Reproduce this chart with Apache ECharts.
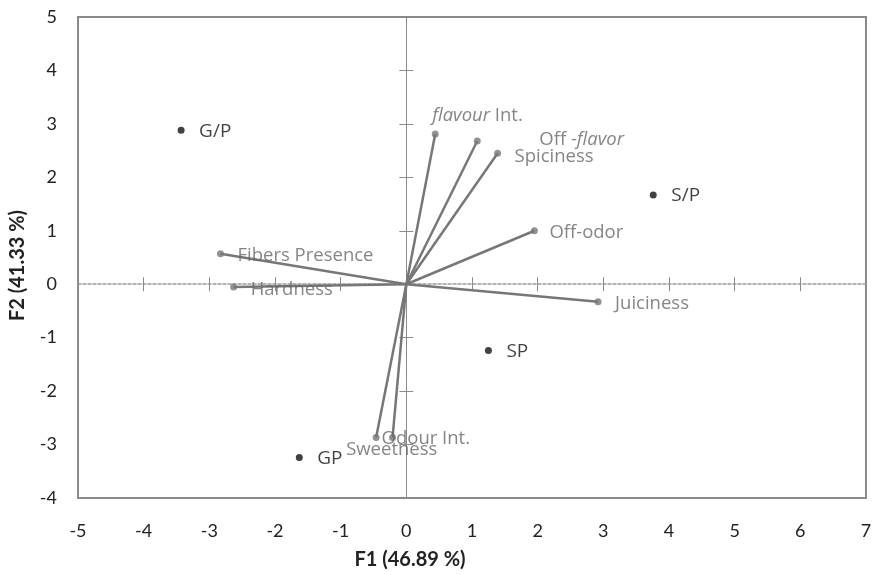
<!DOCTYPE html>
<html><head><meta charset="utf-8">
<script src="https://cdn.jsdelivr.net/npm/echarts@6/dist/echarts.min.js"></script>
<style>html,body{margin:0;padding:0;background:#fff}#c{width:876px;height:575px}</style>
</head><body><div id="c"></div>
<script>
// Observations (F1, F2)
const obsNames = ['G/P', 'S/P', 'SP', 'GP'];
const obsF1 = [-3.43, 3.76, 1.25, -1.63];
const obsF2 = [2.88, 1.67, -1.24, -3.24];
// Variable vectors (F1, F2)
const varNames = ['flavour Int.', 'Off -flavor', 'Spiciness', 'Off-odor', 'Fibers Presence', 'Hardness', 'Juiciness', 'Sweetness', 'Odour Int.'];
const varF1 = [0.44, 1.08, 1.39, 1.95, -2.83, -2.63, 2.92, -0.46, -0.21];
const varF2 = [2.81, 2.68, 2.45, 1.00, 0.57, -0.05, -0.33, -2.87, -2.87];
const xTicks = { min: -5, max: 7, step: 1 };
const yTicks = { min: -4, max: 5, step: 1 };
const xTitle = 'F1 (46.89 %)';
const yTitle = 'F2 (41.33 %)';

// label styling (offsets in px)
const varLabelStyle = {
  'flavour Int.': { fmt: '{i|flavour} Int.', off: [-3, -18] },
  'Off -flavor': { fmt: 'Off -{i|flavor}', off: [62, -1] },
  'Spiciness': { fmt: 'Spiciness', off: [17, 3] },
  'Off-odor': { fmt: 'Off-odor', off: [15, 2] },
  'Fibers Presence': { fmt: 'Fibers Presence', off: [17, 2] },
  'Hardness': { fmt: 'Hardness', off: [17, 3] },
  'Juiciness': { fmt: 'Juiciness', off: [17, 2] },
  'Sweetness': { fmt: 'Sweetness', off: [-30, 12] },
  'Odour Int.': { fmt: 'Odour Int.', off: [-11, 1] }
};

const GREY = '#8a8a8a';
const LBL = '#666666';
const FONT = '"Open Sans", "DejaVu Sans", sans-serif';
const TICKFONT = 'Lato, "Open Sans", sans-serif';

const varData = varNames.map((n, i) => ({ name: n, value: [varF1[i], varF2[i]] }));
const obsData = obsNames.map((n, i) => ({ name: n, value: [obsF1[i], obsF2[i]] }));

function zeroAxis(pos, extra) {
  return Object.assign({
    type: 'value', position: pos, gridIndex: 0,
    axisLine: { show: true, onZero: true, onZeroAxisIndex: 0 },
    axisTick: { show: true, length: 7, lineStyle: { color: GREY, width: 1 } },
    axisLabel: { show: false }, splitLine: { show: false }
  }, extra);
}

const option = {
  animation: false,
  grid: { left: 78, right: 10, top: 17, bottom: 77, show: true, borderColor: GREY, borderWidth: 2, containLabel: false },
  xAxis: [
    {
      type: 'value', min: xTicks.min, max: xTicks.max, interval: xTicks.step, position: 'bottom',
      axisLine: { show: false, onZero: false }, axisTick: { show: false }, splitLine: { show: false },
      axisLabel: { fontSize: 18, color: '#222', margin: 24, fontFamily: TICKFONT },
      name: xTitle, nameLocation: 'middle', nameGap: 52,
      nameTextStyle: { fontSize: 20, fontWeight: 'bold', color: '#222', fontFamily: TICKFONT, padding: [0, 124, 0, 0] }
    },
    zeroAxis('bottom', { min: xTicks.min, max: xTicks.max, interval: xTicks.step,
      axisLine: { show: true, onZero: true, onZeroAxisIndex: 0, lineStyle: { color: '#9a9a9a', width: 1.5, type: [3, 2] } } }),
    zeroAxis('top', { min: xTicks.min, max: xTicks.max, interval: xTicks.step,
      axisLine: { show: false, onZero: true, onZeroAxisIndex: 0 } })
  ],
  yAxis: [
    {
      type: 'value', min: yTicks.min, max: yTicks.max, interval: yTicks.step, position: 'left',
      axisLine: { show: false, onZero: false }, axisTick: { show: false }, splitLine: { show: false },
      axisLabel: { fontSize: 18, color: '#222', margin: 21, fontFamily: TICKFONT },
      name: yTitle, nameLocation: 'middle', nameGap: 50, nameRotate: 90,
      nameTextStyle: { fontSize: 20, fontWeight: 'bold', color: '#222', fontFamily: TICKFONT, padding: [0, 16, 0, 0] }
    },
    zeroAxis('left', { min: yTicks.min, max: yTicks.max, interval: yTicks.step,
      axisLine: { show: true, onZero: true, onZeroAxisIndex: 0, lineStyle: { color: GREY, width: 1 } } }),
    zeroAxis('right', { min: yTicks.min, max: yTicks.max, interval: yTicks.step,
      axisLine: { show: false, onZero: true, onZeroAxisIndex: 0 } })
  ],
  series: [
    {
      type: 'custom', xAxisIndex: 0, yAxisIndex: 0, silent: true,
      data: varData,
      renderItem: function (params, api) {
        const o = api.coord([0, 0]);
        const p = api.coord([api.value(0), api.value(1)]);
        return { type: 'line', shape: { x1: o[0], y1: o[1], x2: p[0], y2: p[1] },
          style: { stroke: '#777777', lineWidth: 2.5 } };
      },
      z: 3
    },
    {
      type: 'scatter', xAxisIndex: 0, yAxisIndex: 0, symbolSize: 7, silent: true,
      itemStyle: { color: '#777777' },
      data: varData.map(d => Object.assign({}, d, {
        label: { show: true, position: 'inside', align: 'left', verticalAlign: 'middle',
          offset: varLabelStyle[d.name].off,
          formatter: varLabelStyle[d.name].fmt }
      })),
      label: { fontSize: 18.5, color: LBL, fontFamily: FONT,
        rich: { i: { fontStyle: 'italic', fontSize: 18.5, color: LBL, fontFamily: FONT } } },
      z: 4
    },
    {
      type: 'scatter', xAxisIndex: 0, yAxisIndex: 0, symbolSize: 7, silent: true,
      itemStyle: { color: '#111' },
      data: obsData,
      label: { show: true, position: 'inside', align: 'left', verticalAlign: 'middle', offset: [18, 1],
        formatter: '{b}', fontSize: 19, color: '#111', fontFamily: FONT },
      z: 5
    }
  ]
};
const chart = echarts.init(document.getElementById('c'), null, { renderer: 'canvas' });
chart.setOption(option);
</script></body></html>
